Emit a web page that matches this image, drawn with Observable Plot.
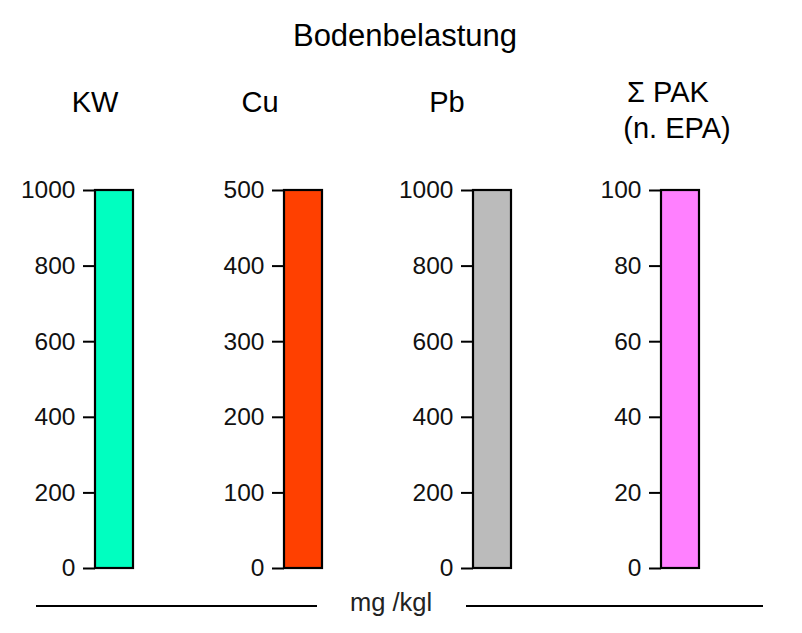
<!DOCTYPE html>
<html>
<head>
<meta charset="utf-8">
<script src="https://cdn.jsdelivr.net/npm/d3@7"></script>
<script src="https://cdn.jsdelivr.net/npm/@observablehq/plot@0.6"></script>
<style>
  html, body { margin: 0; padding: 0; background: #fff; }
  #chart { position: relative; width: 802px; height: 633px; font-family: "Liberation Sans", Arial, Helvetica, sans-serif; }
  #chart > .panel { position: absolute; top: 170px; }
  #overlay { position: absolute; left: 0; top: 0; }
</style>
</head>
<body>
<div id="chart"></div>
<script>
// ---- data ----
const chartTitle = "Bodenbelastung";
const unitLabel = "mg /kgl";
const panelNames = ["KW", "Cu", "Pb", "Σ PAK"];
const panelSubtitles = ["", "", "", "(n. EPA)"];
const panelValues = [1000, 500, 1000, 100];
const panelTicks = [
  [0, 200, 400, 600, 800, 1000],
  [0, 100, 200, 300, 400, 500],
  [0, 200, 400, 600, 800, 1000],
  [0, 20, 40, 60, 80, 100]
];
const panelColors = ["#00ffc0", "#ff4000", "#bbbbbb", "#ff80ff"];

// ---- layout ----
const container = document.getElementById("chart");
const panelLefts = [0, 189, 378, 566];
const titleX = [95, 260, 447, 668];
const FONT = '"Liberation Sans", Arial, Helvetica, sans-serif';

panelNames.forEach((name, i) => {
  const data = [{name, value: panelValues[i]}];
  const p = Plot.plot({
    width: 140,
    height: 413,
    marginLeft: 95,
    marginRight: 7,
    marginTop: 20,
    marginBottom: 15,
    style: {fontFamily: FONT, fontSize: "24px", color: "#000", background: "transparent", overflow: "visible"},
    x: {type: "band", domain: [name], padding: 0, axis: null},
    y: {domain: [0, panelValues[i]], axis: null},
    marks: [
      Plot.barY(data, {x: "name", y: "value", fill: panelColors[i], stroke: "#000", strokeWidth: 2.2, inset: 0}),
      Plot.axisY({ticks: panelTicks[i], tickSize: 12, tickPadding: 8, strokeWidth: 2, fontSize: 24.5, fill: "#111", tickFormat: d => String(d), label: null})
    ]
  });
  p.classList.add("panel");
  p.style.left = panelLefts[i] + "px";
  container.appendChild(p);
});

// overlay texts & rules
const svg = d3.select(container).append("svg")
  .attr("id", "overlay").attr("width", 802).attr("height", 633)
  .style("font-family", FONT);

svg.append("text").attr("x", 405).attr("y", 46).attr("text-anchor", "middle")
  .attr("font-size", 31).attr("fill", "#000").text(chartTitle);

panelNames.forEach((name, i) => {
  const hasSub = panelSubtitles[i] !== "";
  svg.append("text").attr("x", titleX[i]).attr("y", hasSub ? 102 : 112)
    .attr("text-anchor", "middle").attr("font-size", 29).attr("fill", "#000").text(name);
  if (hasSub) {
    svg.append("text").attr("x", titleX[i] + 9).attr("y", 138)
      .attr("text-anchor", "middle").attr("font-size", 29).attr("fill", "#000").text(panelSubtitles[i]);
  }
});

svg.append("text").attr("x", 391).attr("y", 611).attr("text-anchor", "middle")
  .attr("font-size", 25.5).attr("fill", "#222").text(unitLabel);
svg.append("line").attr("x1", 36).attr("x2", 317).attr("y1", 606).attr("y2", 606).attr("stroke", "#000").attr("stroke-width", 2);
svg.append("line").attr("x1", 466).attr("x2", 763).attr("y1", 606).attr("y2", 606).attr("stroke", "#000").attr("stroke-width", 2);
</script>
</body>
</html>
